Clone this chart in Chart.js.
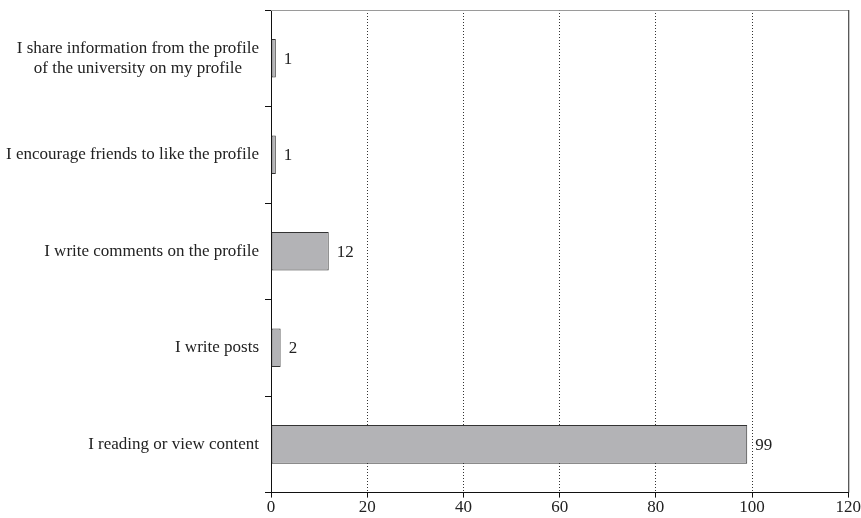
<html>
<body style="margin:0">
<div style="width:861px;height:518px;position:relative">
<canvas id="myChart"></canvas>
</div>
<script src="https://cdn.jsdelivr.net/npm/chart.js@4.4.0/dist/chart.umd.min.js"></script>

<script>
    const yLabels = [
        ["I share information from the profile", "of the university on my profile    "],
        "I encourage friends to like the profile",
        "I write comments on the profile",
        "I write posts",
        "I reading or view content"
    ];
    const yValues = [1, 1, 12, 2, 99];
    const xTicks = [0, 20, 40, 60, 80, 100, 120];

    const serif = "'Liberation Serif', 'Times New Roman', serif";

    // value labels at the end of each bar + frame on top and right
    const extras = {
        id: "extras",
        afterDatasetsDraw(chart) {
            const ctx = chart.ctx;
            const area = chart.chartArea;
            ctx.save();
            ctx.lineWidth = 1;
            ctx.strokeStyle = "#9a9a9a";
            ctx.beginPath();
            ctx.moveTo(area.left, area.top + 0.5);
            ctx.lineTo(area.right, area.top + 0.5);
            ctx.stroke();
            ctx.strokeStyle = "#222";
            ctx.beginPath();
            ctx.moveTo(area.right + 0.5, area.top);
            ctx.lineTo(area.right + 0.5, area.bottom);
            ctx.stroke();

            ctx.font = "17px " + serif;
            ctx.fillStyle = "#222";
            ctx.textAlign = "left";
            ctx.textBaseline = "middle";
            chart.getDatasetMeta(0).data.forEach((bar, i) => {
                ctx.fillText(String(yValues[i]), bar.x + 8, bar.y + 1);
            });
            ctx.restore();
        }
    };

    new Chart("myChart", {
        type: "bar",
        data: {
            labels: yLabels,
            datasets: [{
                data: yValues,
                backgroundColor: "#b3b3b6",
                borderColor: "#333",
                borderWidth: 1,
                borderSkipped: false,
                barPercentage: 0.4,
                categoryPercentage: 1
            }]
        },
        options: {
            indexAxis: "y",
            responsive: true,
            maintainAspectRatio: false,
            animation: false,
            layout: {padding: {left: 0, top: 10, right: 2, bottom: 0}},
            plugins: {
                legend: {display: false},
                tooltip: {enabled: false}
            },
            scales: {
                x: {
                    min: 0,
                    max: 120,
                    afterBuildTicks: (axis) => { axis.ticks = xTicks.map(v => ({value: v})); },
                    border: {color: "#111", width: 1, dash: [1, 2]},
                    grid: {
                        color: (c) => (c.tick && (c.tick.value === 0 || c.tick.value === 120)) ? "rgba(0,0,0,0)" : "#333",
                        tickColor: "#111",
                        tickLength: 5
                    },
                    ticks: {
                        color: "#222",
                        font: {family: serif, size: 17},
                        padding: 0,
                        maxRotation: 0
                    }
                },
                y: {
                    afterFit: (axis) => { axis.paddingTop = 0; axis.paddingBottom = 0; },
                    border: {color: "#111", width: 1},
                    grid: {
                        offset: true,
                        drawOnChartArea: false,
                        tickColor: "#111",
                        tickLength: 6
                    },
                    ticks: {
                        color: "#222",
                        font: {family: serif, size: 17},
                        padding: 6
                    }
                }
            }
        },
        plugins: [extras]
    });
</script>
</body>
</html>
